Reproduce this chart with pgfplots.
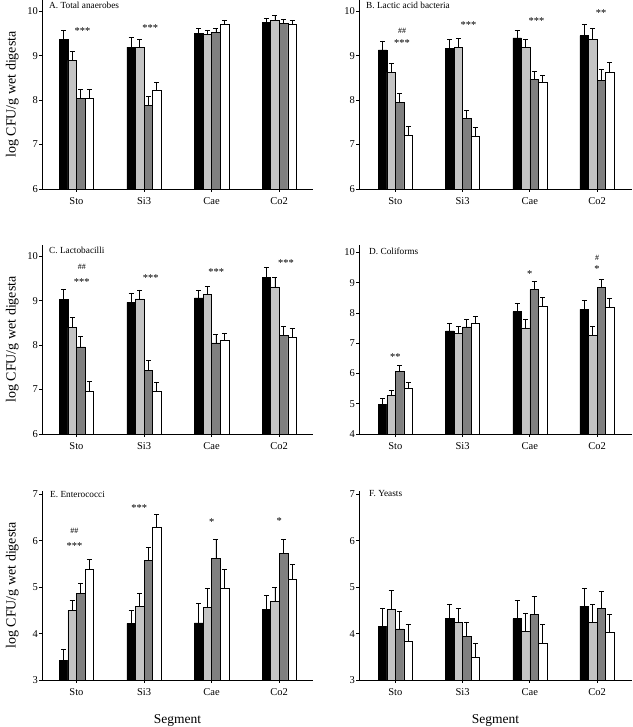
\documentclass[border=0pt]{standalone}
\usepackage{fontspec}
\setmainfont{Liberation Serif}
\usepackage{pgfplots}
\pgfplotsset{compat=1.18}
\definecolor{lgray}{HTML}{C4C4C4}
\definecolor{dgray}{HTML}{808080}
\pgfplotsset{
  panel/.style={
    scale only axis, height=189pt,
    axis lines=left, axis line style={-, line width=0.8pt},
    xtick={0,1,2,3}, xticklabels={Sto,Si3,Cae,Co2},
    tick align=outside, major tick length=3pt,
    tick style={line width=0.8pt, black},
    /pgf/number format/assume math mode=true,
    ticklabel style={font=\fontsize{10.5}{12}\selectfont},
    xticklabel style={yshift=-2pt},
    yticklabel style={xshift=2.5pt},
    every axis y label/.style={at={(axis description cs:-0.11,0.5)}, rotate=90,
      anchor=center, font=\fontsize{14}{16}\selectfont},
    every axis x label/.style={at={(axis description cs:0.5,-0.215)},
      anchor=center, font=\fontsize{13.5}{15}\selectfont},
    clip=false,
  },
  leftp/.style={panel, width=271pt, xmin=-0.51, xmax=3.5},
  rightp/.style={panel, width=273pt, xmin=-0.54, xmax=3.52},
  eb/.style={
    /pgfplots/error bars/y dir=plus, /pgfplots/error bars/y explicit,
    /pgfplots/error bars/error bar style={line width=0.8pt, black},
    /pgfplots/error bars/error mark options={rotate=90, mark size=2.5pt, line width=0.8pt, black}},
  onebar/.style={ybar, bar width=0.127, bar shift=0pt, draw=black, line width=0.5pt, eb},
  s1/.style={onebar, fill=black},
  s2/.style={onebar, fill=lgray},
  s3/.style={onebar, fill=dgray},
  s4/.style={onebar, fill=white},
}
\tikzset{
  ttl/.style={anchor=west, inner sep=0pt, font=\fontsize{9.3}{10}\selectfont},
  st/.style={anchor=center, inner sep=0pt, yshift=-1.5pt, font=\fontsize{10.5}{11}\selectfont},
  hs/.style={anchor=center, inner sep=0pt, font=\fontsize{8}{9}\selectfont},
}
\begin{document}
\begin{tikzpicture}
\path[use as bounding box] (0pt,0pt) rectangle (632pt,727pt);

% A. Total anaerobes
\begin{axis}[leftp, at={(42pt,538pt)}, anchor=south west,
  ymin=6, ymax=10.25, ytick={6,7,8,9,10}, ylabel={log CFU/g wet digesta}]
\addplot[s1] coordinates {(-0.19,9.36) +- (0,0.21) (0.81,9.19) +- (0,0.21) (1.81,9.50) +- (0,0.10) (2.81,9.75) +- (0,0.09)};
\addplot[s2] coordinates {(-0.0635,8.89) +- (0,0.20) (0.9365,9.18) +- (0,0.19) (1.9365,9.47) +- (0,0.10) (2.9365,9.79) +- (0,0.11)};
\addplot[s3] coordinates {(0.0635,8.04) +- (0,0.20) (1.0635,7.88) +- (0,0.20) (2.0635,9.53) +- (0,0.09) (3.0635,9.72) +- (0,0.09)};
\addplot[s4] coordinates {(0.19,8.04) +- (0,0.20) (1.19,8.21) +- (0,0.19) (2.19,9.70) +- (0,0.10) (3.19,9.71) +- (0,0.07)};
\node[ttl, xshift=7pt, yshift=-5pt] at (rel axis cs:0,1) {A. Total anaerobes};
\node[st] at (axis cs:0.09,9.59) {***};
\node[st] at (axis cs:1.09,9.65) {***};
\end{axis}

% B. Lactic acid bacteria
\begin{axis}[rightp, at={(359pt,538pt)}, anchor=south west,
  ymin=6, ymax=10.25, ytick={6,7,8,9,10}]
\addplot[s1] coordinates {(-0.19,9.13) +- (0,0.20) (0.81,9.16) +- (0,0.20) (1.81,9.40) +- (0,0.17) (2.81,9.45) +- (0,0.24)};
\addplot[s2] coordinates {(-0.0635,8.62) +- (0,0.21) (0.9365,9.18) +- (0,0.20) (1.9365,9.19) +- (0,0.17) (2.9365,9.37) +- (0,0.24)};
\addplot[s3] coordinates {(0.0635,7.94) +- (0,0.21) (1.0635,7.59) +- (0,0.18) (2.0635,8.47) +- (0,0.17) (3.0635,8.44) +- (0,0.24)};
\addplot[s4] coordinates {(0.19,7.20) +- (0,0.21) (1.19,7.19) +- (0,0.20) (2.19,8.40) +- (0,0.16) (3.19,8.62) +- (0,0.23)};
\node[ttl, xshift=7pt, yshift=-5pt] at (rel axis cs:0,1) {B. Lactic acid bacteria};
\node[hs] at (axis cs:0.1,9.56) {\#\#};
\node[st] at (axis cs:0.1,9.31) {***};
\node[st] at (axis cs:1.09,9.71) {***};
\node[st] at (axis cs:2.1,9.81) {***};
\node[st] at (axis cs:3.06,9.98) {**};
\end{axis}

% C. Lactobacilli
\begin{axis}[leftp, at={(42pt,293pt)}, anchor=south west,
  ymin=6, ymax=10.25, ytick={6,7,8,9,10}, ylabel={log CFU/g wet digesta}]
\addplot[s1] coordinates {(-0.19,9.02) +- (0,0.23) (0.81,8.96) +- (0,0.21) (1.81,9.06) +- (0,0.17) (2.81,9.53) +- (0,0.21)};
\addplot[s2] coordinates {(-0.0635,8.39) +- (0,0.24) (0.9365,9.04) +- (0,0.20) (1.9365,9.14) +- (0,0.17) (2.9365,9.31) +- (0,0.21)};
\addplot[s3] coordinates {(0.0635,7.96) +- (0,0.24) (1.0635,7.43) +- (0,0.22) (2.0635,8.05) +- (0,0.18) (3.0635,8.21) +- (0,0.21)};
\addplot[s4] coordinates {(0.19,6.95) +- (0,0.24) (1.19,6.95) +- (0,0.20) (2.19,8.10) +- (0,0.17) (3.19,8.17) +- (0,0.21)};
\node[ttl, xshift=7pt, yshift=-5pt] at (rel axis cs:0,1) {C. Lactobacilli};
\node[hs] at (axis cs:0.08,9.75) {\#\#};
\node[st] at (axis cs:0.08,9.44) {***};
\node[st] at (axis cs:1.1,9.55) {***};
\node[st] at (axis cs:2.07,9.68) {***};
\node[st] at (axis cs:3.1,9.88) {***};
\end{axis}

% D. Coliforms
\begin{axis}[rightp, at={(359pt,293pt)}, anchor=south west,
  ymin=4, ymax=10.25, ytick={4,5,6,7,8,9,10}]
\addplot[s1] coordinates {(-0.19,4.99) +- (0,0.19) (0.81,7.41) +- (0,0.24) (1.81,8.05) +- (0,0.27) (2.81,8.12) +- (0,0.30)};
\addplot[s2] coordinates {(-0.0635,5.27) +- (0,0.18) (0.9365,7.33) +- (0,0.24) (1.9365,7.51) +- (0,0.28) (2.9365,7.25) +- (0,0.31)};
\addplot[s3] coordinates {(0.0635,6.08) +- (0,0.20) (1.0635,7.54) +- (0,0.24) (2.0635,8.77) +- (0,0.28) (3.0635,8.84) +- (0,0.28)};
\addplot[s4] coordinates {(0.19,5.51) +- (0,0.19) (1.19,7.66) +- (0,0.24) (2.19,8.24) +- (0,0.29) (3.19,8.18) +- (0,0.29)};
\node[ttl, xshift=10pt, yshift=-6pt] at (rel axis cs:0,1) {D. Coliforms};
\node[st] at (axis cs:0,6.6) {**};
\node[st] at (axis cs:2,9.34) {*};
\node[hs] at (axis cs:3,9.84) {\#};
\node[st] at (axis cs:3,9.5) {*};
\end{axis}

% E. Enterococci
\begin{axis}[leftp, at={(42pt,47pt)}, anchor=south west,
  ymin=3, ymax=7.07, ytick={3,4,5,6,7}, ylabel={log CFU/g wet digesta}, xlabel={Segment}]
\addplot[s1] coordinates {(-0.19,3.43) +- (0,0.23) (0.81,4.22) +- (0,0.28) (1.81,4.23) +- (0,0.41) (2.81,4.52) +- (0,0.30)};
\addplot[s2] coordinates {(-0.0635,4.50) +- (0,0.22) (0.9365,4.58) +- (0,0.28) (1.9365,4.56) +- (0,0.41) (2.9365,4.69) +- (0,0.31)};
\addplot[s3] coordinates {(0.0635,4.87) +- (0,0.22) (1.0635,5.58) +- (0,0.27) (2.0635,5.62) +- (0,0.41) (3.0635,5.72) +- (0,0.31)};
\addplot[s4] coordinates {(0.19,5.38) +- (0,0.21) (1.19,6.28) +- (0,0.28) (2.19,4.98) +- (0,0.41) (3.19,5.17) +- (0,0.31)};
\node[ttl, xshift=8pt, yshift=-3pt] at (rel axis cs:0,1) {E. Enterococci};
\node[hs] at (axis cs:-0.03,6.22) {\#\#};
\node[st] at (axis cs:-0.03,5.92) {***};
\node[st] at (axis cs:0.93,6.74) {***};
\node[st] at (axis cs:2,6.44) {*};
\node[st] at (axis cs:3,6.46) {*};
\end{axis}

% F. Yeasts
\begin{axis}[rightp, at={(359pt,47pt)}, anchor=south west,
  ymin=3, ymax=7.07, ytick={3,4,5,6,7}, xlabel={Segment}]
\addplot[s1] coordinates {(-0.19,4.16) +- (0,0.38) (0.81,4.32) +- (0,0.30) (1.81,4.32) +- (0,0.39) (2.81,4.59) +- (0,0.39)};
\addplot[s2] coordinates {(-0.0635,4.52) +- (0,0.40) (0.9365,4.24) +- (0,0.31) (1.9365,4.04) +- (0,0.39) (2.9365,4.24) +- (0,0.38)};
\addplot[s3] coordinates {(0.0635,4.10) +- (0,0.38) (1.0635,3.94) +- (0,0.31) (2.0635,4.41) +- (0,0.38) (3.0635,4.54) +- (0,0.37)};
\addplot[s4] coordinates {(0.19,3.83) +- (0,0.37) (1.19,3.48) +- (0,0.31) (2.19,3.79) +- (0,0.40) (3.19,4.03) +- (0,0.38)};
\node[ttl, xshift=10pt, yshift=-3pt] at (rel axis cs:0,1) {F. Yeasts};
\end{axis}
\end{tikzpicture}
\end{document}
